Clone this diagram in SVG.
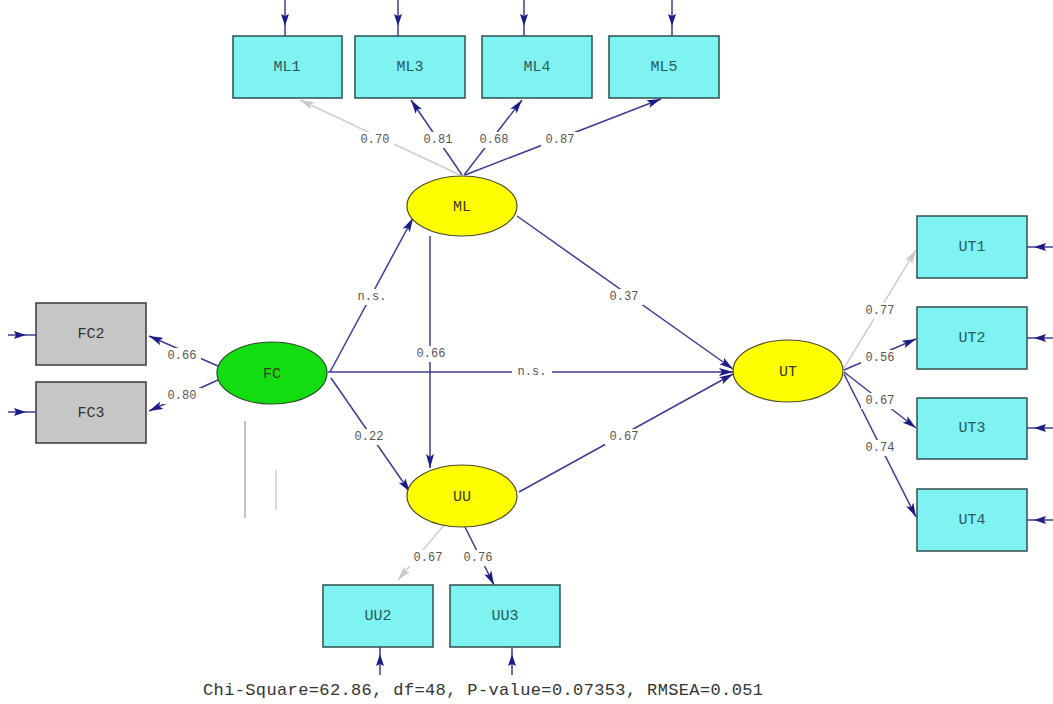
<svg xmlns="http://www.w3.org/2000/svg" width="1053" height="704" viewBox="0 0 1053 704">
<defs>
<marker id="ah" viewBox="0 0 14 8" refX="14" refY="4" markerWidth="14" markerHeight="8" markerUnits="userSpaceOnUse" orient="auto">
<path d="M0,0 L14,4 L0,8 L3,4 Z" fill="#1c1c86"/>
</marker>
<marker id="ahs" viewBox="0 0 12 8" refX="6" refY="4" markerWidth="12" markerHeight="8" markerUnits="userSpaceOnUse" orient="auto">
<path d="M0,0 L12,4 L0,8 L2,4 Z" fill="#1c1c86"/>
</marker>
<marker id="ahf" viewBox="0 0 14 8" refX="14" refY="4" markerWidth="14" markerHeight="8" markerUnits="userSpaceOnUse" orient="auto">
<path d="M0,0 L14,4 L0,8 L3,4 Z" fill="#c8c8c8"/>
</marker>
</defs>
<style>
.box{fill:#7ff2f2;stroke:#2f4f4f;stroke-width:1.5}
.gbox{fill:#c6c6c6;stroke:#3a3a3a;stroke-width:1.5}
.lat{fill:#ffff00;stroke:#4a4a2a;stroke-width:1.2}
.fc{fill:#11dd11;stroke:#2a4a2a;stroke-width:1.2}
.nt{font-family:"Liberation Mono",monospace;font-size:15px;fill:#2a5a5a;text-anchor:middle;dominant-baseline:central}
.lt{font-family:"Liberation Mono",monospace;font-size:15px;fill:#3a3a1a;text-anchor:middle;dominant-baseline:central}
.c{stroke:#3c3c96;stroke-width:1.5;fill:none}
.cf{stroke:#d2cccc;stroke-width:1.5;fill:none}
.e{stroke:#3c3c96;stroke-width:1.5;fill:none;marker-mid:url(#ahs)}
.lb{font-family:"Liberation Mono",monospace;font-size:12px;fill:#555;text-anchor:middle;dominant-baseline:central}
.bg{fill:#fff}
.art{stroke:#9a9a9a;stroke-width:1.2;fill:none}
</style>
<rect width="1053" height="704" fill="#fff"/>

<g id="artifacts">
<line class="art" x1="245" y1="421" x2="245" y2="518"/>
<line class="art" x1="276" y1="470" x2="276" y2="510" stroke-opacity="0.6"/>
</g>

<g id="connectors">
<path class="e" d="M285,0 V20 V36"/>
<path class="e" d="M398,0 V20 V36"/>
<path class="e" d="M524,0 V20 V36"/>
<path class="e" d="M672,0 V20 V36"/>
<path class="e" d="M8,335 H20 H36"/>
<path class="e" d="M8,412 H20 H36"/>
<path class="e" d="M1053,247 H1040 H1027"/>
<path class="e" d="M1053,338 H1040 H1027"/>
<path class="e" d="M1053,428 H1040 H1027"/>
<path class="e" d="M1053,520 H1040 H1027"/>
<path class="e" d="M380,675 V660 V647"/>
<path class="e" d="M512,675 V660 V647"/>
<line class="cf" x1="460" y1="175" x2="300" y2="100" marker-end="url(#ahf)"/>
<line class="c" x1="462" y1="175" x2="411" y2="100" marker-end="url(#ah)"/>
<line class="c" x1="464" y1="175" x2="522" y2="100" marker-end="url(#ah)"/>
<line class="c" x1="465" y1="175" x2="661" y2="99" marker-end="url(#ah)"/>
<line class="c" x1="218" y1="366" x2="149" y2="336" marker-end="url(#ah)"/>
<line class="c" x1="218" y1="380" x2="149" y2="411" marker-end="url(#ah)"/>
<line class="cf" x1="844" y1="368" x2="916" y2="250" marker-end="url(#ahf)"/>
<line class="c" x1="844" y1="370" x2="916" y2="339" marker-end="url(#ah)"/>
<line class="c" x1="844" y1="372" x2="916" y2="428" marker-end="url(#ah)"/>
<line class="c" x1="844" y1="374" x2="916" y2="517" marker-end="url(#ah)"/>
<line class="cf" x1="444" y1="525" x2="398" y2="580" marker-end="url(#ahf)"/>
<line class="c" x1="465" y1="527" x2="494" y2="585" marker-end="url(#ah)"/>
<line class="c" x1="330" y1="372" x2="413" y2="218" marker-end="url(#ah)"/>
<line class="c" x1="328" y1="372" x2="733" y2="372" stroke-width="2" marker-end="url(#ah)"/>
<line class="c" x1="331" y1="378" x2="410" y2="492" marker-end="url(#ah)"/>
<line class="c" x1="430" y1="236" x2="430" y2="468" marker-end="url(#ah)"/>
<line class="c" x1="517" y1="216" x2="733" y2="369" marker-end="url(#ah)"/>
<line class="c" x1="519" y1="492" x2="733" y2="374" marker-end="url(#ah)"/>
</g>

<g id="labels">
<rect class="bg" x="356" y="132" width="38" height="16"/><text class="lb" x="375" y="140">0.70</text>
<rect class="bg" x="419" y="132" width="38" height="16"/><text class="lb" x="438" y="140">0.81</text>
<rect class="bg" x="475" y="132" width="38" height="16"/><text class="lb" x="494" y="140">0.68</text>
<rect class="bg" x="541" y="132" width="38" height="16"/><text class="lb" x="560" y="140">0.87</text>
<rect class="bg" x="163" y="348" width="38" height="16"/><text class="lb" x="182" y="356">0.66</text>
<rect class="bg" x="163" y="388" width="38" height="16"/><text class="lb" x="182" y="396">0.80</text>
<rect class="bg" x="355" y="289" width="36" height="16"/><text class="lb" x="372" y="297">n.s.</text>
<rect class="bg" x="412" y="346" width="38" height="16"/><text class="lb" x="431" y="354">0.66</text>
<rect class="bg" x="512" y="364" width="40" height="16"/><text class="lb" x="532" y="372">n.s.</text>
<rect class="bg" x="605" y="289" width="38" height="16"/><text class="lb" x="624" y="297">0.37</text>
<rect class="bg" x="605" y="429" width="38" height="16"/><text class="lb" x="624" y="437">0.67</text>
<rect class="bg" x="350" y="429" width="38" height="16"/><text class="lb" x="369" y="437">0.22</text>
<rect class="bg" x="861" y="303" width="38" height="16"/><text class="lb" x="880" y="311">0.77</text>
<rect class="bg" x="861" y="350" width="38" height="16"/><text class="lb" x="880" y="358">0.56</text>
<rect class="bg" x="861" y="393" width="38" height="16"/><text class="lb" x="880" y="401">0.67</text>
<rect class="bg" x="861" y="440" width="38" height="16"/><text class="lb" x="880" y="448">0.74</text>
<rect class="bg" x="409" y="550" width="38" height="16"/><text class="lb" x="428" y="558">0.67</text>
<rect class="bg" x="459" y="550" width="38" height="16"/><text class="lb" x="478" y="558">0.76</text>
</g>

<g id="ML1"><rect class="box" x="233" y="36" width="109" height="62"/><text class="nt" x="287" y="67">ML1</text></g>
<g id="ML3"><rect class="box" x="355" y="36" width="110" height="62"/><text class="nt" x="410" y="67">ML3</text></g>
<g id="ML4"><rect class="box" x="482" y="36" width="110" height="62"/><text class="nt" x="537" y="67">ML4</text></g>
<g id="ML5"><rect class="box" x="609" y="36" width="110" height="62"/><text class="nt" x="664" y="67">ML5</text></g>
<g id="FC2"><rect class="gbox" x="36" y="303" width="110" height="62"/><text class="nt" x="91" y="334" style="fill:#333">FC2</text></g>
<g id="FC3"><rect class="gbox" x="36" y="382" width="110" height="61"/><text class="nt" x="91" y="413" style="fill:#333">FC3</text></g>
<g id="UT1"><rect class="box" x="917" y="216" width="110" height="62"/><text class="nt" x="972" y="247">UT1</text></g>
<g id="UT2"><rect class="box" x="917" y="307" width="110" height="62"/><text class="nt" x="972" y="338">UT2</text></g>
<g id="UT3"><rect class="box" x="917" y="398" width="110" height="61"/><text class="nt" x="972" y="428">UT3</text></g>
<g id="UT4"><rect class="box" x="917" y="489" width="110" height="62"/><text class="nt" x="972" y="520">UT4</text></g>
<g id="UU2"><rect class="box" x="323" y="585" width="110" height="62"/><text class="nt" x="378" y="616">UU2</text></g>
<g id="UU3"><rect class="box" x="450" y="585" width="110" height="62"/><text class="nt" x="505" y="616">UU3</text></g>

<g id="ML"><ellipse class="lat" cx="462" cy="206" rx="55" ry="30"/><text class="lt" x="462" y="207">ML</text></g>
<g id="FC"><ellipse class="fc" cx="272" cy="373" rx="55" ry="31"/><text class="lt" x="272" y="374">FC</text></g>
<g id="UT"><ellipse class="lat" cx="788" cy="371" rx="55" ry="31"/><text class="lt" x="788" y="372">UT</text></g>
<g id="UU"><ellipse class="lat" cx="462" cy="496" rx="55" ry="31"/><text class="lt" x="462" y="497">UU</text></g>

<text x="203" y="690" font-family="Liberation Mono,monospace" font-size="17" fill="#333" dominant-baseline="central" textLength="560">Chi-Square=62.86, df=48, P-value=0.07353, RMSEA=0.051</text>
</svg>
